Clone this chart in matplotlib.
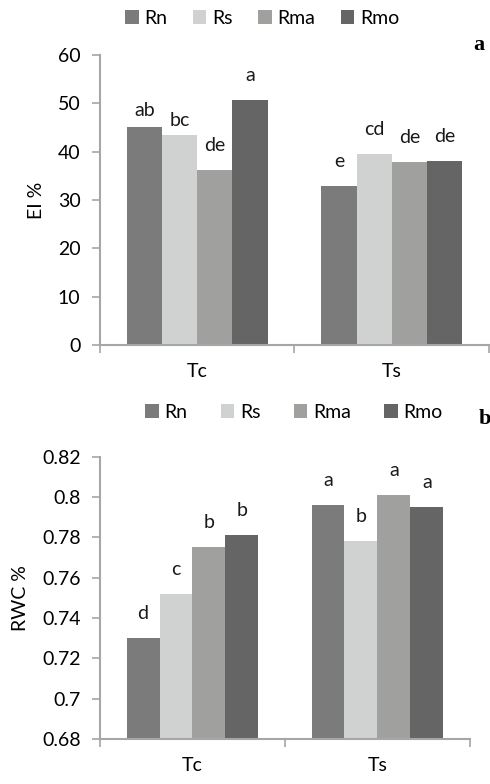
import numpy as np
import matplotlib
matplotlib.use('Agg')
import matplotlib.pyplot as plt
from matplotlib.ticker import FixedLocator

plt.rcParams['font.family'] = ['Lato', 'DejaVu Sans']

groups = ['Tc', 'Ts']
series = ['Rn', 'Rs', 'Rma', 'Rmo']
colors = ['#7b7b7b', '#d0d2d1', '#a0a09f', '#666565']

# electrolyte leakage (EI %), per series: [Tc, Ts]
ei = [[45.1, 32.8], [43.5, 39.6], [36.2, 37.9], [50.6, 38.1]]
ei_letters = [['ab', 'e'], ['bc', 'cd'], ['de', 'de'], ['a', 'de']]

# relative water content (RWC %), per series: [Tc, Ts]
rwc = [[0.730, 0.796], [0.752, 0.778], [0.775, 0.801], [0.781, 0.795]]
rwc_letters = [['d', 'a'], ['c', 'b'], ['b', 'a'], ['b', 'a']]

grey = '#a6a6a6'
fs = 14

fig = plt.figure(figsize=(4.9, 7.84), dpi=100)
ax1 = fig.add_axes([0.204, 0.560, 0.794, 0.370])
ax2 = fig.add_axes([0.204, 0.0574, 0.755, 0.360])


def draw(ax, vals, letters, width, ylim, yticks, yfmt, ylabel, nudge=None):
    x = np.arange(len(groups))
    for i, name in enumerate(series):
        pos = x + (i - 1.5) * width
        ax.bar(pos, vals[i], width=width, color=colors[i], label=name, zorder=2)
        for j in range(len(groups)):
            off = 16
            if nudge and (i, j) in nudge:
                off = nudge[(i, j)]
            ax.annotate(letters[i][j], (pos[j], vals[i][j]), xytext=(0, off),
                        textcoords='offset pixels', ha='center', va='bottom',
                        fontsize=fs, color='#1a1a1a')
    ax.set_xlim(-0.5, len(groups) - 0.5)
    ax.set_ylim(*ylim)
    ax.set_yticks(yticks)
    ax.set_yticklabels([yfmt(v) for v in yticks])
    ax.set_xticks(x)
    ax.set_xticklabels(groups)
    ax.xaxis.set_minor_locator(FixedLocator(np.arange(-0.5, len(groups), 1.0)))
    ax.tick_params(axis='x', which='major', length=0, pad=13, labelsize=fs)
    ax.tick_params(axis='x', which='minor', length=6, color=grey, width=1.2)
    ax.tick_params(axis='y', length=6, color=grey, width=1.2, labelsize=fs, pad=8)
    for s in ['top', 'right']:
        ax.spines[s].set_visible(False)
    for s in ['left', 'bottom']:
        ax.spines[s].set_color(grey)
        ax.spines[s].set_linewidth(1.5)
    ax.set_ylabel(ylabel, fontsize=fs, labelpad=9)


draw(ax1, ei, ei_letters, 0.181, (0, 60), np.arange(0, 61, 10), lambda v: '%d' % v,
     'EI %', nudge={(0, 0): 8, (1, 0): 6})
draw(ax2, rwc, rwc_letters, 0.178, (0.68, 0.82), np.round(np.arange(0.68, 0.821, 0.02), 2),
     lambda v: ('%.2f' % v).rstrip('0').rstrip('.'), 'RWC %')

for ax, anchor, gap in [(ax1, (0.535, 0.977), 1.3), (ax2, (0.600, 0.474), 1.7)]:
    h, l = ax.get_legend_handles_labels()
    fig.legend(h, l, loc='center', bbox_to_anchor=anchor, ncol=4, frameon=False,
               fontsize=fs, handlelength=0.7, handleheight=0.7, handletextpad=0.3,
               columnspacing=gap, borderaxespad=0)

fig.text(0.978, 0.943, 'a', fontsize=16, fontweight='bold', family='Liberation Serif',
         ha='center', va='center')
fig.text(0.990, 0.466, 'b', fontsize=16, fontweight='bold', family='Liberation Serif',
         ha='center', va='center')

fig.savefig('out.png', dpi=100)
